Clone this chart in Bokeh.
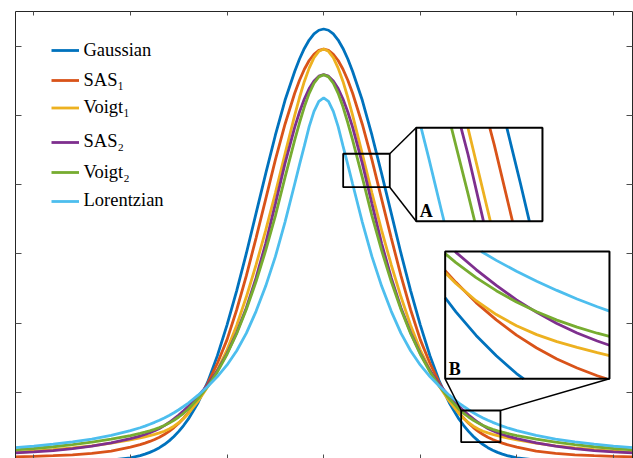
import numpy as np
from bokeh.plotting import figure
from bokeh.models import Range1d, LinearAxis, FixedTicker, Legend, LegendItem
from bokeh.embed import file_html
from bokeh.resources import INLINE
from bokeh.core.properties import value

# ---------------- data (profiles are symmetric about x = 0,
# values below are the right flank, the left flank mirrors them) ----------------
x_half = [0, 0.05, 0.1, 0.15, 0.2, 0.25, 0.3, 0.4, 0.5, 0.6, 0.7, 0.8, 0.9, 1.0,
          1.1, 1.2, 1.3, 1.4, 1.45, 1.5, 1.55, 1.6, 1.65, 1.7, 1.75, 1.8, 1.85,
          1.9, 2.0, 2.2, 2.4, 2.6, 2.8, 3.0, 3.2]

gaussian = [0.625, 0.6232, 0.6179, 0.6091, 0.5969, 0.5817, 0.5636, 0.5220, 0.4715,
            0.4160, 0.3585, 0.3010, 0.2470, 0.1975, 0.1530, 0.1150, 0.0850, 0.0615,
            0.0520, 0.0435, 0.0362, 0.0298, 0.0245, 0.0200, 0.0163, 0.0132, 0.0107,
            0.0086, 0.0054, 0.0020, 0.0007, 0.0002, 0.0, 0.0, 0.0]
sas1 = [0.596, 0.5942, 0.5885, 0.5795, 0.5668, 0.5510, 0.5322, 0.4874, 0.4360,
        0.3792, 0.3229, 0.2685, 0.2193, 0.1761, 0.1420, 0.1128, 0.0890, 0.0705,
        0.0626, 0.0553, 0.0491, 0.0436, 0.0390, 0.0350, 0.0318, 0.0290, 0.0266,
        0.0244, 0.0207, 0.0150, 0.0117, 0.0097, 0.0084, 0.0075, 0.0068]
voigt1 = [0.596, 0.5928, 0.5836, 0.5685, 0.5492, 0.5260, 0.5001, 0.4445, 0.3880,
          0.3340, 0.2840, 0.2380, 0.1970, 0.1615, 0.1325, 0.1080, 0.0872, 0.0695,
          0.0622, 0.0560, 0.0510, 0.0470, 0.0438, 0.0413, 0.0392, 0.0373, 0.0356,
          0.0341, 0.0313, 0.0264, 0.0226, 0.0195, 0.0170, 0.0148, 0.0130]
sas2 = [0.559, 0.5568, 0.5500, 0.5390, 0.5238, 0.5050, 0.4829, 0.4309, 0.3723,
        0.3153, 0.2653, 0.2223, 0.1863, 0.1563, 0.1313, 0.1108, 0.0943, 0.0800,
        0.0734, 0.0672, 0.0615, 0.0563, 0.0518, 0.0478, 0.0444, 0.0415, 0.0390,
        0.0368, 0.0330, 0.0268, 0.0222, 0.0186, 0.0158, 0.0138, 0.0124]
voigt2 = [0.559, 0.5558, 0.5466, 0.5320, 0.5126, 0.4895, 0.4645, 0.4105, 0.3550,
          0.3050, 0.2600, 0.2200, 0.1850, 0.1550, 0.1295, 0.1085, 0.0908, 0.0758,
          0.0697, 0.0643, 0.0596, 0.0555, 0.0520, 0.0490, 0.0465, 0.0443, 0.0424,
          0.0406, 0.0375, 0.0322, 0.0279, 0.0243, 0.0213, 0.0188, 0.0167]
lorentzian = [0.5255, 0.5205, 0.5060, 0.4840, 0.4560, 0.4290, 0.4010, 0.3460, 0.2960,
              0.2535, 0.2170, 0.1855, 0.1600, 0.1395, 0.1228, 0.1085, 0.0958, 0.0845,
              0.0795, 0.0748, 0.0705, 0.0666, 0.0630, 0.0597, 0.0566, 0.0538, 0.0512,
              0.0488, 0.0445, 0.0377, 0.0324, 0.0283, 0.0250, 0.0223, 0.0201]

labels = ["Gaussian", "SAS\u2081", "Voigt\u2081", "SAS\u2082", "Voigt\u2082", "Lorentzian"]
series = [gaussian, sas1, voigt1, sas2, voigt2, lorentzian]
colors = ["#0072BD", "#D95319", "#EDB120", "#7E2F8E", "#77AC30", "#4DBEEE"]

x_ticks = [-3, -2, -1, 0, 1, 2, 3]
y_ticks = [0.1, 0.2, 0.3, 0.4, 0.5, 0.6]

# zoom windows (data units) and where their insets sit (data units of main axes)
win_a = (0.2019, 0.6843, 0.3964, 0.4447)
ins_a = (0.9576, 2.2650, 0.3473, 0.4822)
win_b = (1.4234, 1.8302, 0.0279, 0.0737)
ins_b = (1.2578, 2.9586, 0.1195, 0.3035)

X0, X1 = -3.190, 3.197
Y0, Y1 = 0.00434, 0.6503


def full(vals):
    return list(reversed(vals[1:])) + list(vals)


xs_full = [-v for v in reversed(x_half[1:])] + list(x_half)


def clip(xs, ys, x0, x1, y0, y1):
    ox, oy = [], []
    last = None
    for i in range(len(xs) - 1):
        ax, ay, bx, by = xs[i], ys[i], xs[i + 1], ys[i + 1]
        dx, dy = bx - ax, by - ay
        t0, t1 = 0.0, 1.0
        ok = True
        for pp, qq in ((-dx, ax - x0), (dx, x1 - ax), (-dy, ay - y0), (dy, y1 - ay)):
            if pp == 0:
                if qq < 0:
                    ok = False
                    break
            else:
                r = qq / pp
                if pp < 0:
                    if r > t1:
                        ok = False
                        break
                    t0 = max(t0, r)
                else:
                    if r < t0:
                        ok = False
                        break
                    t1 = min(t1, r)
        if not ok:
            continue
        sx, sy = ax + t0 * dx, ay + t0 * dy
        ex, ey = ax + t1 * dx, ay + t1 * dy
        if last is not None and abs(last[0] - sx) < 1e-12 and abs(last[1] - sy) < 1e-12:
            ox.append(ex)
            oy.append(ey)
        else:
            if ox:
                ox.append(np.nan)
                oy.append(np.nan)
            ox += [sx, ex]
            oy += [sy, ey]
        last = (ex, ey)
    return ox, oy


def inset_range(w0, w1, i0, i1, f0, f1):
    k = (w1 - w0) / (i1 - i0)
    return Range1d(w0 + (f0 - i0) * k, w0 + (f1 - i0) * k)


p = figure(width=633, height=458, x_range=Range1d(X0, X1), y_range=Range1d(Y0, Y1),
           output_backend="svg", toolbar_location=None,
           min_border_left=15, min_border_right=1, min_border_top=11, min_border_bottom=0)
p.xgrid.visible = False
p.ygrid.visible = False
p.outline_line_color = None
p.background_fill_color = "white"
p.border_fill_color = "white"

bottom_axis = p.below[0]
left_axis = p.left[0]
top_axis = LinearAxis()
right_axis = LinearAxis()
p.add_layout(top_axis, "above")
p.add_layout(right_axis, "right")
for ax, tk in ((bottom_axis, x_ticks), (top_axis, x_ticks), (left_axis, y_ticks), (right_axis, y_ticks)):
    ax.ticker = FixedTicker(ticks=tk)
    ax.major_label_text_font_size = "0px"
    ax.major_label_text_color = None
    ax.major_label_standoff = 0
    ax.major_tick_out = 0
    ax.major_tick_in = 4
    ax.minor_tick_line_color = None
    ax.axis_line_color = "#262626"
    ax.axis_line_width = 1
    ax.major_tick_line_color = "#4d4d4d"
    ax.major_tick_line_width = 1
bottom_axis.axis_line_color = None
left_axis.major_tick_in = 6
right_axis.major_tick_in = 6

renderers = []
for vals, col in zip(series, colors):
    r = p.line(xs_full, full(vals), line_color=col, line_width=2.8)
    renderers.append(r)

# insets
p.extra_x_ranges = {
    "ax": inset_range(win_a[0], win_a[1], ins_a[0], ins_a[1], X0, X1),
    "bx": inset_range(win_b[0], win_b[1], ins_b[0], ins_b[1], X0, X1),
}
p.extra_y_ranges = {
    "ay": inset_range(win_a[2], win_a[3], ins_a[2], ins_a[3], Y0, Y1),
    "by": inset_range(win_b[2], win_b[3], ins_b[2], ins_b[3], Y0, Y1),
}

for win, ins, xn, yn, lab in ((win_a, ins_a, "ax", "ay", "A"), (win_b, ins_b, "bx", "by", "B")):
    p.quad(left=[ins[0]], right=[ins[1]], bottom=[ins[2]], top=[ins[3]],
           fill_color="white", line_color=None)
    for vals, col in zip(series, colors):
        cx, cy = clip(xs_full, full(vals), win[0], win[1], win[2], win[3])
        p.line(cx, cy, line_color=col, line_width=2.8, x_range_name=xn, y_range_name=yn)
    p.quad(left=[ins[0]], right=[ins[1]], bottom=[ins[2]], top=[ins[3]],
           fill_color=None, line_color="black", line_width=2)
    p.quad(left=[win[0]], right=[win[1]], bottom=[win[2]], top=[win[3]],
           fill_color=None, line_color="black", line_width=1.8)
    p.text(x=[ins[0]], y=[ins[2]], text=[lab], x_offset=3.5, y_offset=-10,
           text_font=value("Liberation Serif"), text_font_style="bold",
           text_font_size="18px", text_baseline="alphabetic", text_align="left",
           text_color="black")

# connectors
p.segment(x0=[win_a[1], win_a[1]], y0=[win_a[3], win_a[2]],
          x1=[ins_a[0], ins_a[0]], y1=[ins_a[3], ins_a[2]],
          line_color="black", line_width=1.5)
p.segment(x0=[win_b[0], win_b[1]], y0=[win_b[3], win_b[3]],
          x1=[ins_b[0], ins_b[1]], y1=[ins_b[2], ins_b[2]],
          line_color="black", line_width=1.5)

# legend: one row per entry (line position on the page, label shift below the line)
row_y = [50, 74.3, 102.7, 135.7, 168.3, 200.7]
row_shift = [0, 6, 5, 6, 4, 0]
FRAME_BOTTOM = 458
for lab, r, yl, d in zip(labels, renderers, row_y, row_shift):
    g = 24 - d
    lh = 24 + d
    top = yl - g / 2
    leg = Legend(items=[LegendItem(label=lab, renderers=[r])],
                 location=(35.5, FRAME_BOTTOM - (top + max(g, lh))),
                 glyph_width=28, glyph_height=g, label_height=lh,
                 label_standoff=5, padding=0, margin=0, spacing=0,
                 border_line_color=None, background_fill_alpha=0,
                 label_text_font="Liberation Serif", label_text_font_size="18.5px",
                 label_text_color="black")
    p.add_layout(leg)

open("out.html", "w").write(file_html(p, INLINE))
